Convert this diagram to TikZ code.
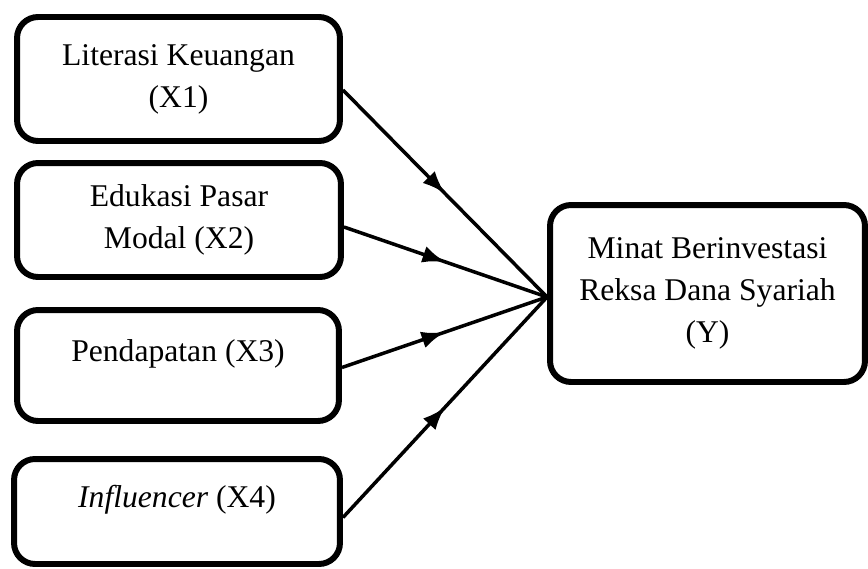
\documentclass[tikz,border=0pt]{standalone}
\usepackage{fontspec}
\setmainfont{Liberation Serif}
\usetikzlibrary{arrows.meta,decorations.markings}

\begin{document}
\begin{tikzpicture}[x=0.02cm,y=-0.02cm,
    varbox/.style={draw, line width=3.4pt, rounded corners=0.42cm, align=center,
      font=\fontsize{18}{24}\selectfont},
    link/.style={line width=2pt, postaction={decorate},
      decoration={markings, mark=at position 0.5 with {\arrow{Latex[length=0.46cm,width=0.34cm]}}}}]
    \useasboundingbox (0,0) rectangle (868,568);
    % Nodes
    \node[varbox, minimum width=6.46cm, minimum height=2.48cm] (x1) at (178.5,79) {Literasi Keuangan\\(X1)};
    \node[varbox, minimum width=6.48cm, minimum height=2.28cm] (x2) at (179,220) {Edukasi Pasar\\Modal (X2)};
    \node[varbox, minimum width=6.44cm, minimum height=2.22cm, text depth=0.6cm] (x3) at (178,365.5) {Pendapatan (X3)};
    \node[varbox, minimum width=6.52cm, minimum height=2.10cm, text depth=0.6cm] (x4) at (177,511.5) {\textit{Influencer} (X4)};
    \node[varbox, minimum width=6.30cm, minimum height=3.54cm] (y) at (707.5,293.5) {Minat Berinvestasi\\Reksa Dana Syariah\\(Y)};
    % Edges
    \coordinate (m) at ([yshift=-0.07cm]y.west);
    \draw[link] ([yshift=-0.22cm]x1.east) -- (m);
    \draw[link] ([yshift=-0.14cm]x2.east) -- (m);
    \draw[link] ([yshift=-0.04cm]x3.east) -- (m);
    \draw[link] ([yshift=-0.12cm]x4.east) -- (m);
\end{tikzpicture}
\end{document}
